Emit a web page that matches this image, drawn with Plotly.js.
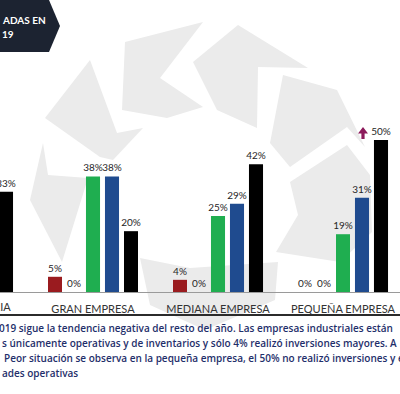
<!DOCTYPE html>
<html><head><meta charset="utf-8">
<script src="https://cdn.plot.ly/plotly-3.0.1.min.js"></script>
<style>html,body{margin:0;padding:0;background:#fff}#c{width:400px;height:394px}</style>
</head><body><div id="c"></div>
<script>
// ---- data ----
const categories = ["TOTAL INDUSTRIA", "GRAN EMPRESA", "MEDIANA EMPRESA", "PEQUEÑA EMPRESA"];
const serieRoja  = [4, 5, 4, 0];
const serieCero  = [0, 0, 0, 0];
const serieVerde = [27, 38, 25, 19];
const serieAzul  = [31, 38, 29, 31];
const serieNegra = [33, 20, 42, 50];
const bannerLines = ["ADAS EN", "19"];
const textLines = [
  "019 sigue la tendencia negativa del resto del año. Las empresas industriales están",
  "s únicamente operativas y de inventarios y sólo 4% realizó inversiones mayores. A",
  "Peor situación se observa en la pequeña empresa, el 50% no realizó inversiones y el",
  "ades operativas"
];

const W = 400, H = 394;
const px = x => x / W, py = y => (H - y) / H;
const path = pts => "M " + pts.map(p => px(p[0]).toFixed(4) + "," + py(p[1]).toFixed(4)).join(" L ") + " Z";

const lblFont = {family: "Lato, 'Open Sans', sans-serif", size: 10, color: "#262626"};
function bar(name, vals, color) {
  return {type: "bar", name, x: categories, y: vals,
    marker: {color}, text: vals.map(v => v + "%"), textposition: "outside",
    constraintext: "none", textfont: lblFont, cliponaxis: false, hoverinfo: "skip"};
}
const traces = [
  bar("Roja", serieRoja, "#9a1b1f"),
  bar("Cero", serieCero, "#7f7f7f"),
  bar("Verde", serieVerde, "#1fae50"),
  bar("Azul", serieAzul, "#1f4b8f"),
  bar("Negra", serieNegra, "#000000")
];

const wm = "#ebebeb";
const watermark = [
  [[125,42],[203,22],[160,78],[203,107],[167,118],[122,110]],
  [[193,62],[238,25],[308,68],[258,67],[257,128],[217,110]],
  [[283,75],[337,90],[365,147],[347,127],[290,167],[270,143]],
  [[90,60],[117,133],[143,128],[113,160],[100,157],[45,118]],
  [[43,143],[48,175],[88,178],[62,262],[30,200]],
  [[140,258],[190,268],[278,262],[275,300],[205,330],[150,305]],
  [[290,182],[347,145],[370,175],[372,232],[340,262],[276,252],[298,215]]
].map(p => ({type:"path", xref:"paper", yref:"paper", path: path(p), fillcolor: wm, line:{width:0}, layer:"below"}));

const shapes = watermark.concat([
  {type:"path", xref:"paper", yref:"paper", path: path([[0,0],[49,0],[60,26],[49,52],[0,52]]), fillcolor:"#1c2331", line:{width:0}, layer:"above"},
  {type:"line", xref:"paper", yref:"paper", x0:0, x1:1, y0:py(315), y1:py(315), line:{color:"#2b2b2b", width:2}},
  {type:"path", xref:"paper", yref:"paper", path: path([[358,133.5],[363,127],[368,133.5],[364.6,133.5],[364.6,139],[361.4,139],[361.4,133.5]]), fillcolor:"#8c1a5b", line:{width:0}}
]);

const catFont = {family: "Lato, sans-serif", size: 11, color: "#333333"};
const bannerFont = {family: "Lato, sans-serif", size: 10, color: "#ffffff", weight: 700};
const annotations = [
  {text: bannerLines[0], x: px(0), y: py(20), xanchor:"left", yanchor:"middle", font: bannerFont},
  {text: bannerLines[1], x: px(0), y: py(34), xanchor:"left", yanchor:"middle", font: bannerFont},
  {text: categories[0], x: px(13), y: py(306), xanchor:"right", yanchor:"middle", font: catFont}
].concat(textLines.map((t, i) => ({
  text: t, x: px([-3, 0, 2, 0][i]), y: py(328 + i * 15), xanchor: "left", yanchor: "middle",
  font: {family: "'Open Sans', sans-serif", size: 10, color: "#1f2f6b", weight: 600}
}))).map(a => Object.assign({xref:"paper", yref:"paper", showarrow:false}, a));

const layout = {
  width: W, height: H, margin: {l:0, r:0, t:0, b:0},
  paper_bgcolor: "#ffffff", plot_bgcolor: "rgba(0,0,0,0)",
  showlegend: false, barmode: "group", bargap: 0.24, bargroupgap: 0.26,
  xaxis: {range: [0.256, 3.456], domain: [0, 1], showgrid: false, zeroline: false,
    showline: true, linecolor: "#9a9a9a", linewidth: 1, ticks: "", ticklabelstandoff: 7,
    tickfont: catFont, fixedrange: true},
  yaxis: {range: [0, 96], domain: [102/394, 1], visible: false, fixedrange: true},
  shapes, annotations
};
Plotly.newPlot("c", traces, layout, {staticPlot: true, displayModeBar: false});
</script></body></html>
